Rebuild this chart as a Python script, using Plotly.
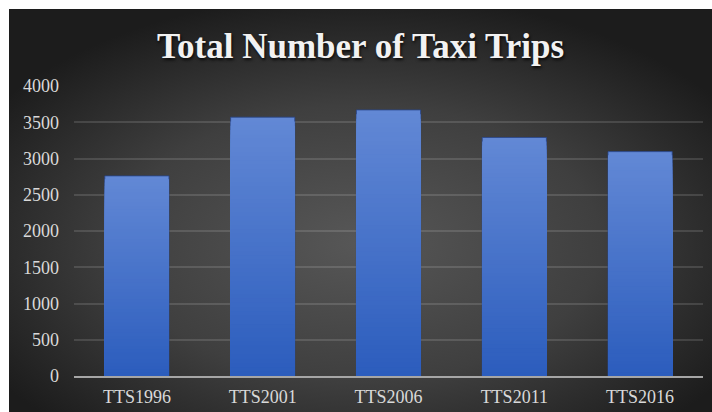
import base64
import plotly.graph_objects as go

categories = ["TTS1996", "TTS2001", "TTS2006", "TTS2011", "TTS2016"]
trips = [2760, 3570, 3670, 3290, 3095]
y_ticks = [0, 500, 1000, 1500, 2000, 2500, 3000, 3500, 4000]

W, H = 712, 412
ML, MR, MT, MB = 74, 9, 86, 36
pw = W - ML - MR
ph = H - MT - MB

# radial gradient background (dark area inset by a white border)
svg = (
    '<svg xmlns="http://www.w3.org/2000/svg" width="100" height="100" viewBox="0 0 100 100" preserveAspectRatio="none">'
    '<defs><radialGradient id="g" cx="50%" cy="58%" r="62%">'
    '<stop offset="0%" stop-color="#575757"/>'
    '<stop offset="55%" stop-color="#3f3f3f"/>'
    '<stop offset="100%" stop-color="#1c1c1c"/>'
    '</radialGradient></defs>'
    '<rect x="0" y="0" width="100" height="100" fill="url(#g)"/></svg>'
)
src = "data:image/svg+xml;base64," + base64.b64encode(svg.encode()).decode()
bx0, bx1 = 9, W
by0, by1 = 9, H
img = dict(
    source=src, xref="paper", yref="paper",
    x=(bx0 - ML) / pw, y=(H - MB - by0) / ph,
    sizex=(bx1 - bx0) / pw, sizey=(by1 - by0) / ph,
    xanchor="left", yanchor="top", sizing="stretch", layer="below",
)

fig = go.Figure()

# vertical gradient on bars built from overlaid, progressively shorter bars
top_c = (0x62, 0x88, 0xd5)
bot_c = (0x2c, 0x5d, 0xbd)
N = 60
for k in range(N):
    f = 1 - k / N
    t = k / (N - 1)
    c = tuple(round(top_c[i] + (bot_c[i] - top_c[i]) * t) for i in range(3))
    fig.add_trace(go.Bar(
        x=categories, y=[v * f for v in trips],
        marker=dict(color="rgb(%d,%d,%d)" % c,
                    line=dict(width=1 if k == 0 else 0, color="rgba(40,70,140,0.8)")),
        showlegend=False, hoverinfo="skip" if k else None,
    ))

fig.update_layout(
    width=W, height=H,
    margin=dict(l=ML, r=MR, t=MT, b=MB),
    paper_bgcolor="white", plot_bgcolor="rgba(0,0,0,0)",
    barmode="overlay", bargap=0.49,
    images=[img],
    title=dict(
        text="<b>Total Number of Taxi Trips</b>",
        x=(bx0 + bx1) / 2 / W, xanchor="center",
        y=1 - 46 / H, yanchor="middle", yref="container",
        font=dict(family="Liberation Serif", size=35, color="#f2f2f2",
                  shadow="1px 2px 3px rgba(0,0,0,0.8)"),
    ),
    font=dict(family="Liberation Serif", size=18, color="#d9d9d9"),
    xaxis=dict(showgrid=False, showline=True, linecolor="#a6a6a6", linewidth=2,
               ticks="", ticklabelstandoff=3, automargin=False,
               tickfont=dict(size=18, color="#d9d9d9")),
    yaxis=dict(range=[0, 4000], tickvals=y_ticks, showgrid=True,
               gridcolor="rgba(255,255,255,0.13)", gridwidth=2, automargin=False,
               zeroline=False, showline=False, ticks="", ticklabelstandoff=14,
               tickfont=dict(size=18, color="#d9d9d9")),
)

fig.write_html("out.html")
